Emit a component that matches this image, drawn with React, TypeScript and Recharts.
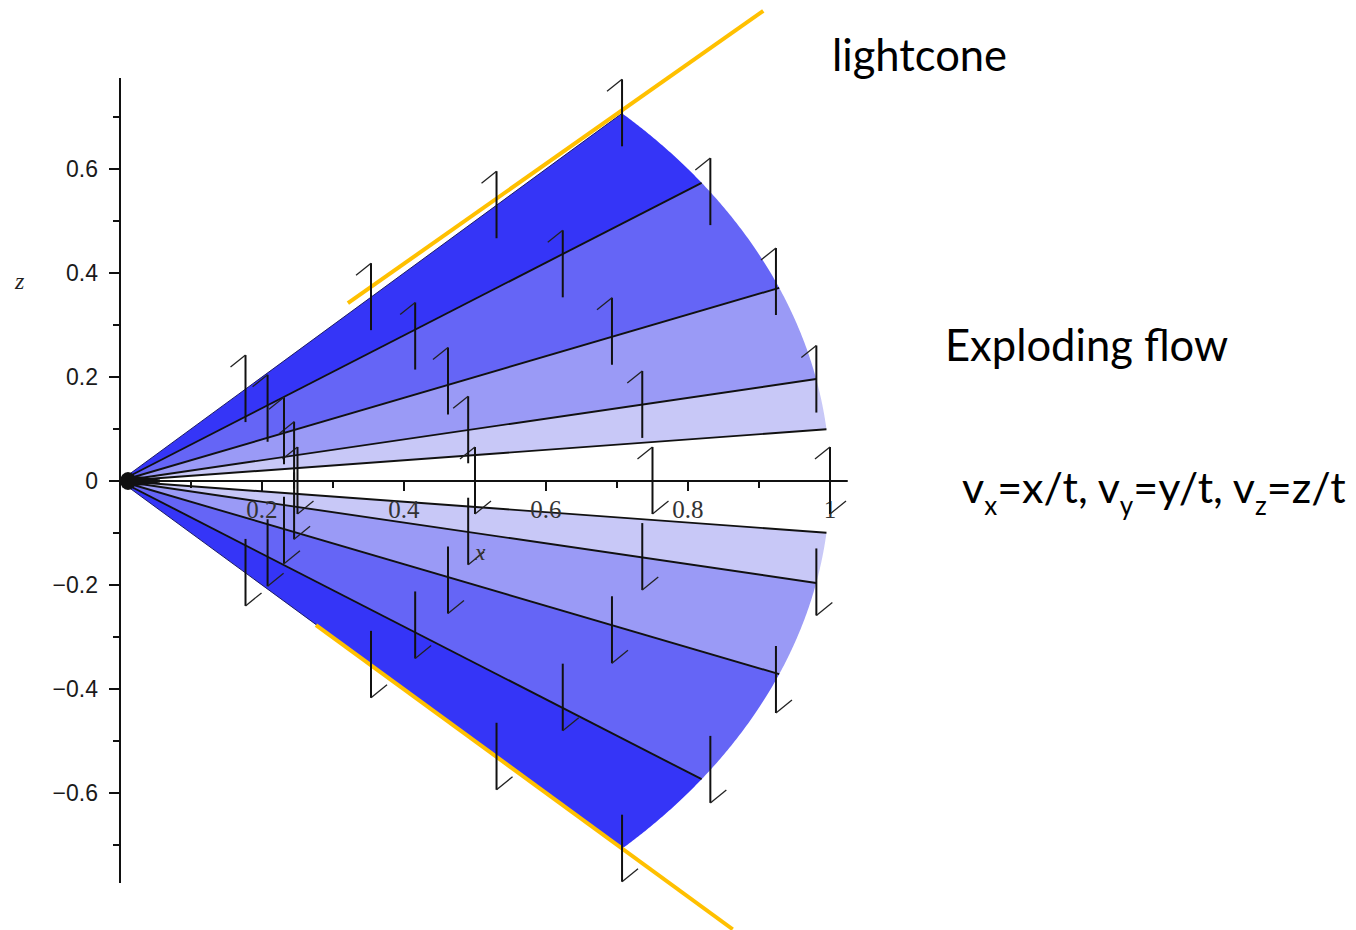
import React from "react";
import {
  ComposedChart,
  XAxis,
  YAxis,
  Area,
  Line,
  Scatter,
  ReferenceLine,
} from "recharts";

const W = 1356;
const H = 930;

// data window; axes are hidden and drawn by hand so they can cross at the origin
const X_DOMAIN: [number, number] = [-0.16901, 1.74085];
const Z_DOMAIN: [number, number] = [-0.86346, 0.925];

// contour rays z/x = const, and the fan they live in
const raySlopes = [0.1, 0.2, 0.4, 0.7];
const edgeSlope = 1.0;
const fanRadius = 1.0;

// shaded bands between consecutive slopes (0.1–0.2, 0.2–0.4, 0.4–0.7, 0.7–1)
const bandEdges = [0.1, 0.2, 0.4, 0.7, 1.0];
const bandColors = ["#c8c8f7", "#9a9af6", "#6565f6", "#3535f7"];

// velocity glyphs on a polar grid
const arrowRadii = [0.25, 0.5, 0.75, 1.0];
const arrowAnglesDeg = [-45, -33.75, -22.5, -11.25, 0, 11.25, 22.5, 33.75, 45];

// axes
const xTickValues = [0.1, 0.2, 0.3, 0.4, 0.5, 0.6, 0.7, 0.8, 0.9, 1.0];
const xTickLabels = ["", "0.2", "", "0.4", "", "0.6", "", "0.8", "", "1"];
const zTickValues = [-0.7, -0.6, -0.5, -0.4, -0.3, -0.2, -0.1, 0, 0.1, 0.2, 0.3, 0.4, 0.5, 0.6, 0.7];
const zTickLabels = ["", "−0.6", "", "−0.4", "", "−0.2", "", "0", "", "0.2", "", "0.4", "", "0.6", ""];
const xAxisEnd = 1.025;
const zAxisRange = [-0.773, 0.775];

// hand-drawn light cone lines
const lightconeUpper = [
  { x: 0.321, z: 0.342 },
  { x: 0.906, z: 0.904 },
];
const lightconeLower = [
  { x: 0.276, z: -0.277 },
  { x: 0.863, z: -0.862 },
];

const origin = [{ x: 0, z: 0 }];

const ARC_STEPS = 48;

// polygon of one band as a range area: lower/upper z for each x
function bandData(a: number, b: number, sign: number) {
  const ta = Math.atan(a);
  const tb = Math.atan(b);
  const xb = fanRadius * Math.cos(tb);
  const pts: { x: number; range: [number, number] }[] = [];
  const push = (x: number, lo: number, hi: number) =>
    pts.push({ x, range: sign > 0 ? [lo, hi] : [-hi, -lo] });
  push(0, 0, 0);
  push(xb, a * xb, b * xb);
  for (let i = 1; i <= ARC_STEPS; i++) {
    const phi = tb + ((ta - tb) * i) / ARC_STEPS;
    const x = fanRadius * Math.cos(phi);
    push(x, a * x, fanRadius * Math.sin(phi));
  }
  return pts;
}

const rayData = (s: number, sign: number) => {
  const t = Math.atan(s);
  return [
    { x: 0, z: 0 },
    { x: fanRadius * Math.cos(t), z: sign * fanRadius * Math.sin(t) },
  ];
};

const arrowPoints = arrowRadii.flatMap((r) =>
  arrowAnglesDeg.map((deg) => {
    const t = (deg * Math.PI) / 180;
    return { x: r * Math.cos(t), z: r * Math.sin(t), dir: Math.sign(deg) };
  })
);

const xTickPoints = xTickValues.map((v, i) => ({ x: v, z: 0, label: xTickLabels[i] }));
const zTickPoints = zTickValues.map((v, i) => ({ x: 0, z: v, label: zTickLabels[i] }));

const INK = "#111";

const ArrowGlyph = (props: any) => {
  const { cx, cy, payload } = props;
  const top = cy - 34;
  const bottom = cy + 33;
  const dir = payload.dir;
  return (
    <g>
      <line x1={cx} y1={top} x2={cx} y2={bottom} stroke={INK} strokeWidth={2} />
      {dir >= 0 && (
        <line x1={cx} y1={top} x2={cx - 15} y2={top + 12} stroke="#222" strokeWidth={1.3} />
      )}
      {dir <= 0 && (
        <line x1={cx} y1={bottom} x2={cx + 16} y2={bottom - 13} stroke="#222" strokeWidth={1.3} />
      )}
    </g>
  );
};

const XTick = (props: any) => {
  const { cx, cy, payload } = props;
  const major = payload.label !== "";
  return (
    <g>
      <line x1={cx} y1={cy} x2={cx} y2={cy + (major ? 10 : 7)} stroke={INK} strokeWidth={2} />
      {major && (
        <text
          x={cx}
          y={cy + 37}
          textAnchor="middle"
          fontFamily="'Liberation Serif', serif"
          fontSize={25}
          fill="#333"
        >
          {payload.label}
        </text>
      )}
    </g>
  );
};

const ZTick = (props: any) => {
  const { cx, cy, payload } = props;
  const major = payload.label !== "";
  return (
    <g>
      <line x1={cx - (major ? 11 : 7)} y1={cy} x2={cx} y2={cy} stroke={INK} strokeWidth={2} />
      {major && (
        <text
          x={cx - 22}
          y={cy + 8}
          textAnchor="end"
          fontFamily="'Liberation Sans', Arial, sans-serif"
          fontSize={23}
          fill="#1a1a1a"
        >
          {payload.label}
        </text>
      )}
    </g>
  );
};

// clutter of zero-length arrows and converging rays at the origin
const OriginBlob = (props: any) => {
  const { cx, cy } = props;
  return (
    <g fill={INK}>
      <ellipse cx={cx + 8} cy={cy} rx={8} ry={9} />
      <path
        d={`M${cx + 8},${cy - 6} L${cx + 24},${cy - 4} L${cx + 40},${cy - 1.5} L${cx + 40},${cy + 1.5} L${cx + 24},${cy + 4} L${cx + 8},${cy + 6} Z`}
      />
    </g>
  );
};

export default function App() {
  const bands: React.ReactNode[] = [];
  for (let i = 0; i < bandColors.length; i++) {
    for (const sign of [1, -1]) {
      bands.push(
        <Area
          key={`band-${i}-${sign}`}
          data={bandData(bandEdges[i], bandEdges[i + 1], sign)}
          dataKey="range"
          type="linear"
          stroke="none"
          fill={bandColors[i]}
          fillOpacity={1}
          dot={false}
          activeDot={false}
          isAnimationActive={false}
        />
      );
    }
  }

  const rays: React.ReactNode[] = [];
  for (const s of raySlopes) {
    for (const sign of [1, -1]) {
      rays.push(
        <Line
          key={`ray-${s}-${sign}`}
          data={rayData(s, sign)}
          dataKey="z"
          type="linear"
          stroke={INK}
          strokeWidth={1.9}
          dot={false}
          activeDot={false}
          isAnimationActive={false}
        />
      );
    }
  }
  for (const sign of [1, -1]) {
    rays.push(
      <Line
        key={`edge-${sign}`}
        data={rayData(edgeSlope, sign)}
        dataKey="z"
        type="linear"
        stroke="#1c1c66"
        strokeWidth={1}
        dot={false}
        activeDot={false}
        isAnimationActive={false}
      />
    );
  }

  return (
    <div style={{ position: "absolute", left: 0, top: 0, width: W, height: H, background: "#fff" }}>
      <ComposedChart width={W} height={H} margin={{ top: 0, right: 0, bottom: 0, left: 0 }}>
        <XAxis type="number" dataKey="x" domain={X_DOMAIN} allowDataOverflow hide />
        <YAxis type="number" dataKey="z" domain={Z_DOMAIN} allowDataOverflow hide />
        {bands}
        {rays}
        <ReferenceLine
          segment={[
            { x: 0, y: 0 },
            { x: xAxisEnd, y: 0 },
          ]}
          stroke={INK}
          strokeWidth={2}
        />
        <ReferenceLine
          segment={[
            { x: 0, y: zAxisRange[0] },
            { x: 0, y: zAxisRange[1] },
          ]}
          stroke={INK}
          strokeWidth={2}
        />
        <Scatter data={xTickPoints} shape={XTick} isAnimationActive={false} />
        <Scatter data={zTickPoints} shape={ZTick} isAnimationActive={false} />
        <Scatter data={arrowPoints} shape={ArrowGlyph} isAnimationActive={false} />
        <Scatter data={origin} shape={OriginBlob} isAnimationActive={false} />
        <Line
          data={lightconeUpper}
          dataKey="z"
          type="linear"
          stroke="#ffc000"
          strokeWidth={4}
          dot={false}
          activeDot={false}
          isAnimationActive={false}
        />
        <Line
          data={lightconeLower}
          dataKey="z"
          type="linear"
          stroke="#ffc000"
          strokeWidth={4}
          dot={false}
          activeDot={false}
          isAnimationActive={false}
        />
      </ComposedChart>
      <svg
        width={W}
        height={H}
        style={{ position: "absolute", left: 0, top: 0, pointerEvents: "none" }}
      >
        <text x={15} y={289} fontFamily="'Liberation Serif', serif" fontStyle="italic" fontSize={24} fill="#222">
          z
        </text>
        <text x={480} y={560} textAnchor="middle" fontFamily="'Liberation Serif', serif" fontStyle="italic" fontSize={24} fill="#333">
          x
        </text>
        <g fontFamily="Lato, 'Open Sans', sans-serif" fontSize={43} fill="#000">
          <text x={832} y={71} fontSize={43.5}>lightcone</text>
          <text x={945} y={361} fontSize={43.5}>Exploding flow</text>
          <text x={962} y={503}>
            v<tspan fontSize={26} dy={12}>x</tspan>
            <tspan dy={-12}>=x/t, v</tspan>
            <tspan fontSize={26} dy={12}>y</tspan>
            <tspan dy={-12}>=y/t, v</tspan>
            <tspan fontSize={26} dy={12}>z</tspan>
            <tspan dy={-12}>=z/t</tspan>
          </text>
        </g>
      </svg>
    </div>
  );
}
